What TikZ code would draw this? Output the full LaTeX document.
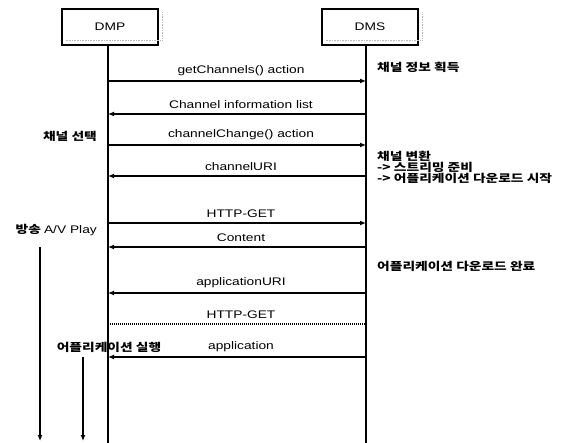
\documentclass[tikz,border=0pt]{standalone}
\usepackage{fontspec}
\setmainfont[FakeStretch=1.25]{Liberation Sans}
\newfontfamily\kr[FakeStretch=1.25]{Noto Sans CJK KR}
\usetikzlibrary{arrows.meta}
\begin{document}
\begin{tikzpicture}[x=1pt,y=-1pt,
  actor/.style={draw,line width=1.3pt,minimum width=96pt,minimum height=36pt,inner sep=0pt,font=\fontsize{11}{13}\selectfont},
  life/.style={line width=1.3pt},
  msg/.style={line width=1.3pt,-{Latex[length=6pt,width=5pt]}},
  dotmsg/.style={line width=1.1pt,dash pattern=on 1pt off 1pt},
  lbl/.style={font=\fontsize{11}{13}\selectfont,inner sep=0pt,midway,above=5pt,xshift=4pt},
  note/.style={font=\kr\bfseries\fontsize{11}{11}\selectfont,inner sep=0pt,align=left},
  shadowline/.style={gray!55,densely dotted,line width=0.6pt}
]
\path[use as bounding box,fill=white] (0,0) rectangle (577,443);

% actors
\node[actor] (dmp) at (110,27) {DMP};
\node[actor] (dms) at (370,27) {DMS};
\draw[shadowline] ([xshift=4pt,yshift=-4pt]dmp.north east) -- ([xshift=4pt,yshift=5pt]dmp.south east) -- ([xshift=4pt,yshift=5pt]dmp.south west);
\draw[shadowline] ([xshift=4pt,yshift=-4pt]dms.north east) -- ([xshift=4pt,yshift=5pt]dms.south east) -- ([xshift=4pt,yshift=5pt]dms.south west);

% lifelines
\coordinate (dmpEnd) at (108,443);
\coordinate (dmsEnd) at (366,443);
\draw[life] (dmp.south -| dmpEnd) -- (dmpEnd);
\draw[life] (dms.south -| dmsEnd) -- (dmsEnd);

% message anchor points
\coordinate (p1) at (108,81);  \coordinate (s1) at (366,81);
\coordinate (p2) at (108,114); \coordinate (s2) at (366,114);
\coordinate (p3) at (108,145); \coordinate (s3) at (366,145);
\coordinate (p4) at (108,176); \coordinate (s4) at (366,176);
\coordinate (p5) at (108,223); \coordinate (s5) at (366,223);
\coordinate (p6) at (108,247); \coordinate (s6) at (366,247);
\coordinate (p7) at (108,293); \coordinate (s7) at (366,293);
\coordinate (p8) at (108,324); \coordinate (s8) at (366,324);
\coordinate (p9) at (108,357); \coordinate (s9) at (366,357);

\draw[msg] (p1) -- (s1) node[lbl] {getChannels() action};
\draw[msg] (s2) -- (p2) node[lbl] {Channel information list};
\draw[msg] (p3) -- (s3) node[lbl] {channelChange() action};
\draw[msg] (s4) -- (p4) node[lbl] {channelURI};
\draw[msg] (p5) -- (s5) node[lbl] {HTTP-GET};
\draw[msg] (s6) -- (p6) node[lbl] {Content};
\draw[msg] (s7) -- (p7) node[lbl] {applicationURI};
\draw[dotmsg] (p8) -- (s8) node[lbl] {HTTP-GET};
\draw[msg] (s9) -- (p9) node[lbl] {application};

% right notes
\node[note,anchor=west] (n1) at (377,67) {채널 정보 획득};
\node[note,anchor=north west] (n2) at (377,151) {채널 변환\\-> 스트리밍 준비\\-> 어플리케이션 다운로드 시작};
\node[note,anchor=west] (n3) at (377,266) {어플리케이션 다운로드 완료};

% left notes
\node[note,anchor=east] (l1) at (97,136) {채널 선택};
\node[note,anchor=east] (l2) at (97,230) {방송 {\fontspec[FakeStretch=1.25]{Liberation Sans}\mdseries\fontsize{11}{11}\selectfont A/V Play}};
\node[note] (l3) at (109,347) {어플리케이션 실행};

% left time arrows
\coordinate (t1s) at (40,247); \coordinate (t1e) at (40,441);
\coordinate (t2s) at (83,357); \coordinate (t2e) at (83,441);
\draw[msg] (t1s) -- (t1e);
\draw[msg] (t2s) -- (t2e);
\end{tikzpicture}
\end{document}
